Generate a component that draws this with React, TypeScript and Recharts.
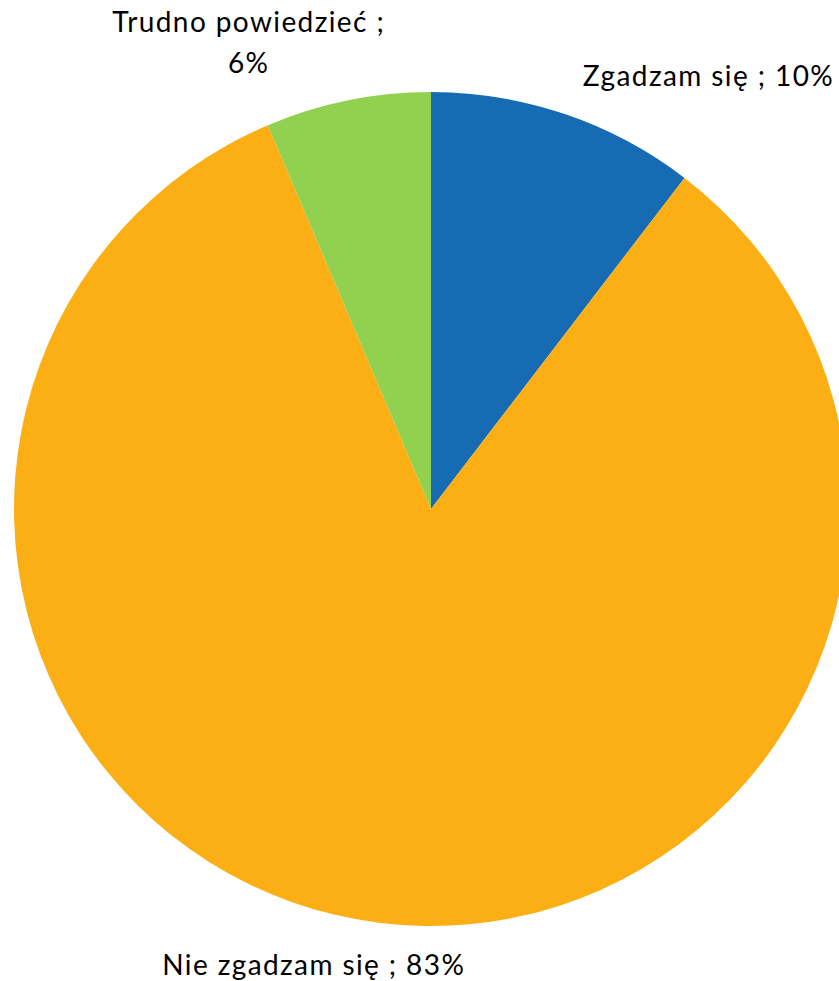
import React from 'react';
import { PieChart, Pie, Cell } from 'recharts';

const categories = ['Zgadzam się', 'Nie zgadzam się', 'Trudno powiedzieć'];
const shares = [10.4, 83.2, 6.4];
const shownPercents = ['10%', '83%', '6%'];
const colors = ['#176BB2', '#FCAF14', '#92D050'];

const data = categories.map((name, i) => ({ name, value: shares[i], pct: shownPercents[i] }));

// label placement per slice: anchor and nudge from the radial point
const labelLayout = [
  { anchor: 'start', dx: 5, dy: 10, wrap: false },
  { anchor: 'middle', dx: -60, dy: 13, wrap: false },
  { anchor: 'middle', dx: -91, dy: -29, wrap: true },
];

const FONT = 'Lato, "Open Sans", sans-serif';

const renderLabel = (props: any) => {
  const { cx, cy, midAngle, outerRadius, index } = props;
  const RAD = Math.PI / 180;
  const r = outerRadius + 40;
  const x = cx + r * Math.cos(-midAngle * RAD);
  const y = cy + r * Math.sin(-midAngle * RAD);
  const lay = labelLayout[index];
  const d = data[index];
  const common = {
    textAnchor: lay.anchor as any,
    fill: '#000',
    fontSize: 28,
    fontFamily: FONT,
    letterSpacing: 1.4,
  };
  if (lay.wrap) {
    return (
      <text x={x + lay.dx} y={y + lay.dy} {...common}>
        <tspan x={x + lay.dx}>{d.name} ;</tspan>
        <tspan x={x + lay.dx} dy={41}>{d.pct}</tspan>
      </text>
    );
  }
  return (
    <text x={x + lay.dx} y={y + lay.dy} {...common}>
      {`${d.name} ; ${d.pct}`}
    </text>
  );
};

export default function App() {
  return (
    <div style={{ position: 'absolute', left: 0, top: 0, width: 839, height: 981, background: '#fff' }}>
      <PieChart width={839} height={981} margin={{ top: 0, right: 0, bottom: 0, left: 0 }}>
        <Pie
          data={data}
          dataKey="value"
          nameKey="name"
          cx={431}
          cy={509}
          outerRadius={417}
          startAngle={90}
          endAngle={-270}
          stroke="none"
          label={renderLabel}
          labelLine={false}
          isAnimationActive={false}
        >
          {data.map((entry, index) => (
            <Cell key={`cell-${index}`} fill={colors[index]} />
          ))}
        </Pie>
      </PieChart>
    </div>
  );
}
